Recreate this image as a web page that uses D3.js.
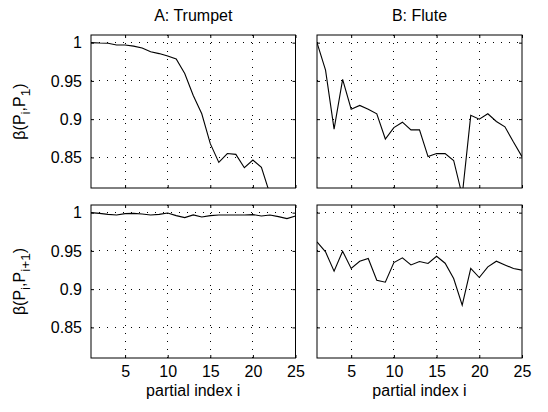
<!DOCTYPE html>
<html>
<head>
<meta charset="utf-8">
<script src="https://cdn.jsdelivr.net/npm/d3@7/dist/d3.min.js"></script>
<style>
  body { margin: 0; background: #fff; }
  text { font-family: "Liberation Sans", Arial, Helvetica, sans-serif; fill: #000; }
</style>
</head>
<body>
<svg id="chart" width="548" height="412"></svg>
<script>
// Partial indices on the x axis
const partials = [1, 2, 3, 4, 5, 6, 7, 8, 9, 10, 11, 12, 13, 14, 15, 16, 17, 18, 19, 20, 21, 22, 23, 24, 25];
const xTicks = [5, 10, 15, 20, 25];
const yTicks = [0.85, 0.9, 0.95, 1];
const columnTitles = ["A: Trumpet", "B: Flute"];

// β(P_i, P_1): correlation of each partial with the fundamental
const trumpetToFirst = [1.000, 0.9995, 0.9993, 0.997, 0.997, 0.9955, 0.993, 0.988, 0.9857, 0.9826,
  0.9787, 0.9596, 0.931, 0.907, 0.868, 0.8435, 0.855, 0.854, 0.8365, 0.8465,
  0.837, 0.802, 0.790, 0.780, 0.770];
const fluteToFirst = [1.000, 0.964, 0.887, 0.952, 0.913, 0.918, 0.913, 0.907, 0.874, 0.889,
  0.896, 0.886, 0.886, 0.851, 0.855, 0.855, 0.846, 0.800, 0.905, 0.900,
  0.907, 0.897, 0.890, 0.870, 0.851];

// β(P_i, P_{i+1}): correlation between neighbouring partials
const trumpetToNext = [1.000, 0.9991, 0.9978, 0.997, 0.9987, 0.9991, 0.9983, 0.997, 0.9978, 0.9996,
  0.9961, 0.9935, 0.997, 0.9943, 0.9961, 0.997, 0.997, 0.997, 0.997, 0.9974,
  0.9957, 0.997, 0.9948, 0.9922, 0.9957];
const fluteToNext = [0.9617, 0.9487, 0.9235, 0.9496, 0.927, 0.9365, 0.940, 0.9117, 0.9091, 0.9348,
  0.9409, 0.9317, 0.9361, 0.9335, 0.943, 0.9339, 0.9139, 0.8791, 0.927, 0.9152,
  0.9291, 0.9365, 0.9317, 0.927, 0.9248];

const series = [
  [trumpetToFirst, fluteToFirst],
  [trumpetToNext, fluteToNext]
];

const svg = d3.select("#chart");
const FONT = 16;

const cols = [{ x0: 91, x1: 295.5 }, { x0: 317, x1: 522 }];
const rows = [{ y0: 35, y1: 188 }, { y0: 205, y1: 358 }];

rows.forEach((r, ri) => {
  cols.forEach((c, ci) => {
    const x = d3.scaleLinear().domain([1, 25]).range([c.x0, c.x1]);
    const y = d3.scaleLinear().domain([0.81, 1.01]).range([r.y1, r.y0]);
    const g = svg.append("g");
    const clipId = `clip-${ri}-${ci}`;

    g.append("clipPath").attr("id", clipId)
      .append("rect")
      .attr("x", c.x0).attr("y", r.y0)
      .attr("width", c.x1 - c.x0).attr("height", r.y1 - r.y0);

    // dotted grid
    g.append("g").selectAll("line").data(xTicks.filter(t => t < 25)).join("line")
      .attr("x1", d => x(d)).attr("x2", d => x(d))
      .attr("y1", r.y0).attr("y2", r.y1)
      .attr("stroke", "#000").attr("stroke-width", 1)
      .attr("stroke-dasharray", "1,7").attr("shape-rendering", "crispEdges");
    g.append("g").selectAll("line").data(yTicks).join("line")
      .attr("x1", c.x0).attr("x2", c.x1)
      .attr("y1", d => y(d)).attr("y2", d => y(d))
      .attr("stroke", "#000").attr("stroke-width", 1)
      .attr("stroke-dasharray", "1,7").attr("shape-rendering", "crispEdges");

    // data line
    const line = d3.line().x((d, i) => x(partials[i])).y(d => y(d));
    g.append("path")
      .attr("clip-path", `url(#${clipId})`)
      .attr("d", line(series[ri][ci]))
      .attr("fill", "none").attr("stroke", "#000").attr("stroke-width", 1.1);

    // axes with inward ticks on all four sides
    const bottom = d3.axisBottom(x).tickValues(xTicks).tickSizeInner(-3).tickSizeOuter(0).tickPadding(8);
    if (ri === 0) bottom.tickFormat("");
    const left = d3.axisLeft(y).tickValues(yTicks).tickSizeInner(-3).tickSizeOuter(0).tickPadding(9)
      .tickFormat(d => d3.format("")(d));
    if (ci === 1) left.tickFormat("");
    const top = d3.axisTop(x).tickValues(xTicks).tickSizeInner(-3).tickSizeOuter(0).tickFormat("");
    const right = d3.axisRight(y).tickValues(yTicks).tickSizeInner(-3).tickSizeOuter(0).tickFormat("");

    const axes = [
      [bottom, `translate(0,${r.y1})`],
      [left, `translate(${c.x0},0)`],
      [top, `translate(0,${r.y0})`],
      [right, `translate(${c.x1},0)`]
    ];
    axes.forEach(([ax, tr]) => {
      const a = g.append("g").attr("transform", tr).call(ax);
      a.select(".domain").remove();
      a.selectAll("text").attr("font-size", FONT).attr("font-family", null);
    });

    // frame
    g.append("rect")
      .attr("x", c.x0).attr("y", r.y0)
      .attr("width", c.x1 - c.x0).attr("height", r.y1 - r.y0)
      .attr("fill", "none").attr("stroke", "#000").attr("stroke-width", 1);

    if (ri === 0) {
      svg.append("text")
        .attr("x", (c.x0 + c.x1) / 2).attr("y", 21)
        .attr("text-anchor", "middle").attr("font-size", FONT)
        .text(columnTitles[ci]);
    } else {
      svg.append("text")
        .attr("x", (c.x0 + c.x1) / 2).attr("y", 396)
        .attr("text-anchor", "middle").attr("font-size", FONT)
        .text("partial index i");
    }
  });

  // y-axis label with subscripts
  const cy = (r.y0 + r.y1) / 2;
  const lab = svg.append("text")
    .attr("transform", `translate(25,${cy}) rotate(-90)`)
    .attr("text-anchor", "middle").attr("font-size", FONT);
  const sub = ri === 0 ? "1" : "i+1";
  lab.append("tspan").text("β(P");
  lab.append("tspan").attr("font-size", FONT * 0.85).attr("dy", 5).text("i");
  lab.append("tspan").attr("dy", -5).text(",P");
  lab.append("tspan").attr("font-size", FONT * 0.85).attr("dy", 5).text(sub);
  lab.append("tspan").attr("dy", -5).text(")");
});
</script>
</body>
</html>
